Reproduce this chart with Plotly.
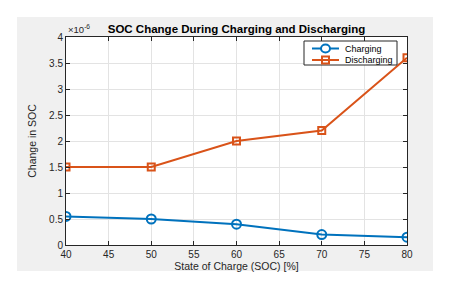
import plotly.graph_objects as go

soc = [40, 50, 60, 70, 80]
charging = [0.55, 0.50, 0.40, 0.20, 0.15]       # x 1e-6
discharging = [1.50, 1.50, 2.00, 2.20, 3.60]    # x 1e-6
x_ticks = [40, 45, 50, 55, 60, 65, 70, 75, 80]
y_ticks = [0, 0.5, 1, 1.5, 2, 2.5, 3, 3.5, 4]
series_names = ["Charging", "Discharging"]
colors = ["#0072BD", "#D95319"]

fig = go.Figure()
fig.add_trace(go.Scatter(x=soc, y=charging, mode="lines+markers", name=series_names[0],
                         line=dict(color=colors[0], width=2),
                         marker=dict(symbol="circle-open", size=9, color=colors[0], line=dict(width=2))))
fig.add_trace(go.Scatter(x=soc, y=discharging, mode="lines+markers", name=series_names[1],
                         line=dict(color=colors[1], width=2),
                         marker=dict(symbol="square-open", size=7, color=colors[1], line=dict(width=2))))

font = "Liberation Sans, Arial, sans-serif"
axis_common = dict(showgrid=True, gridcolor="#e3e3e3", gridwidth=1, zeroline=False,
                   showline=True, linecolor="#262626", linewidth=1, mirror="allticks",
                   ticks="inside", ticklen=4, tickcolor="#262626",
                   tickfont=dict(size=10, color="#262626", family=font))

# plot area in pixels: x 66..407, y 37..245
W, H = 341.0, 208.0
def px(x): return (x - 66) / W
def py(y): return (245 - y) / H

shapes = [
    dict(type="rect", xref="paper", yref="paper", x0=px(17), x1=px(433), y0=py(271), y1=py(17),
         fillcolor="#f0f0f0", line=dict(width=0), layer="below"),
    dict(type="rect", xref="paper", yref="paper", x0=0, x1=1, y0=0, y1=1,
         fillcolor="white", line=dict(width=0), layer="below"),
    # legend box
    dict(type="rect", xref="paper", yref="paper", x0=px(304), x1=px(397), y0=py(65), y1=py(41),
         fillcolor="white", line=dict(color="#262626", width=1), layer="above"),
]
annotations = [dict(text="×10<sup>-6</sup>", xref="paper", yref="paper", x=0.0, y=1.0,
                    xanchor="left", yanchor="bottom", showarrow=False,
                    font=dict(size=9.5, color="#262626"))]
row_y = [48.5, 60]
for i in range(2):
    yy = py(row_y[i])
    shapes.append(dict(type="line", xref="paper", yref="paper", x0=px(312), x1=px(339), y0=yy, y1=yy,
                       line=dict(color=colors[i], width=2), layer="above"))
    if i == 0:
        shapes.append(dict(type="circle", xref="paper", yref="paper",
                           x0=px(325.5 - 4.5), x1=px(325.5 + 4.5), y0=py(row_y[i] + 4), y1=py(row_y[i] - 4),
                           fillcolor="white", line=dict(color=colors[i], width=2), layer="above"))
    else:
        shapes.append(dict(type="rect", xref="paper", yref="paper",
                           x0=px(325.5 - 3.5), x1=px(325.5 + 3.5), y0=py(row_y[i] + 3.5), y1=py(row_y[i] - 3.5),
                           fillcolor="rgba(0,0,0,0)", line=dict(color=colors[i], width=2), layer="above"))
    annotations.append(dict(text=series_names[i], xref="paper", yref="paper", x=px(344), y=yy,
                            xanchor="left", yanchor="middle", showarrow=False, borderpad=0,
                            font=dict(size=9, color="black")))

fig.update_layout(
    width=452, height=288,
    margin=dict(l=66, r=45, t=37, b=43),
    paper_bgcolor="white", plot_bgcolor="rgba(0,0,0,0)",
    font=dict(family=font, color="#262626"),
    title=dict(text="<b>SOC Change During Charging and Discharging</b>", x=0.5, xref="paper",
               xanchor="center", y=1 - 29 / 288, yanchor="middle", font=dict(size=11.5, color="black")),
    xaxis=dict(range=[40, 80], tickvals=x_ticks, ticktext=[str(v) for v in x_ticks],
               title=dict(text="State of Charge (SOC) [%]", font=dict(size=10.5), standoff=1), **axis_common),
    yaxis=dict(range=[0, 4], tickvals=y_ticks, ticktext=[("%g" % v) for v in y_ticks],
               title=dict(text="Change in SOC", font=dict(size=10.5), standoff=10), **axis_common),
    showlegend=False,
    shapes=shapes,
    annotations=annotations,
)

fig.write_html("out.html", config={"displayModeBar": False},
               post_script="document.body.style.margin='0';document.body.style.overflow='hidden';")
